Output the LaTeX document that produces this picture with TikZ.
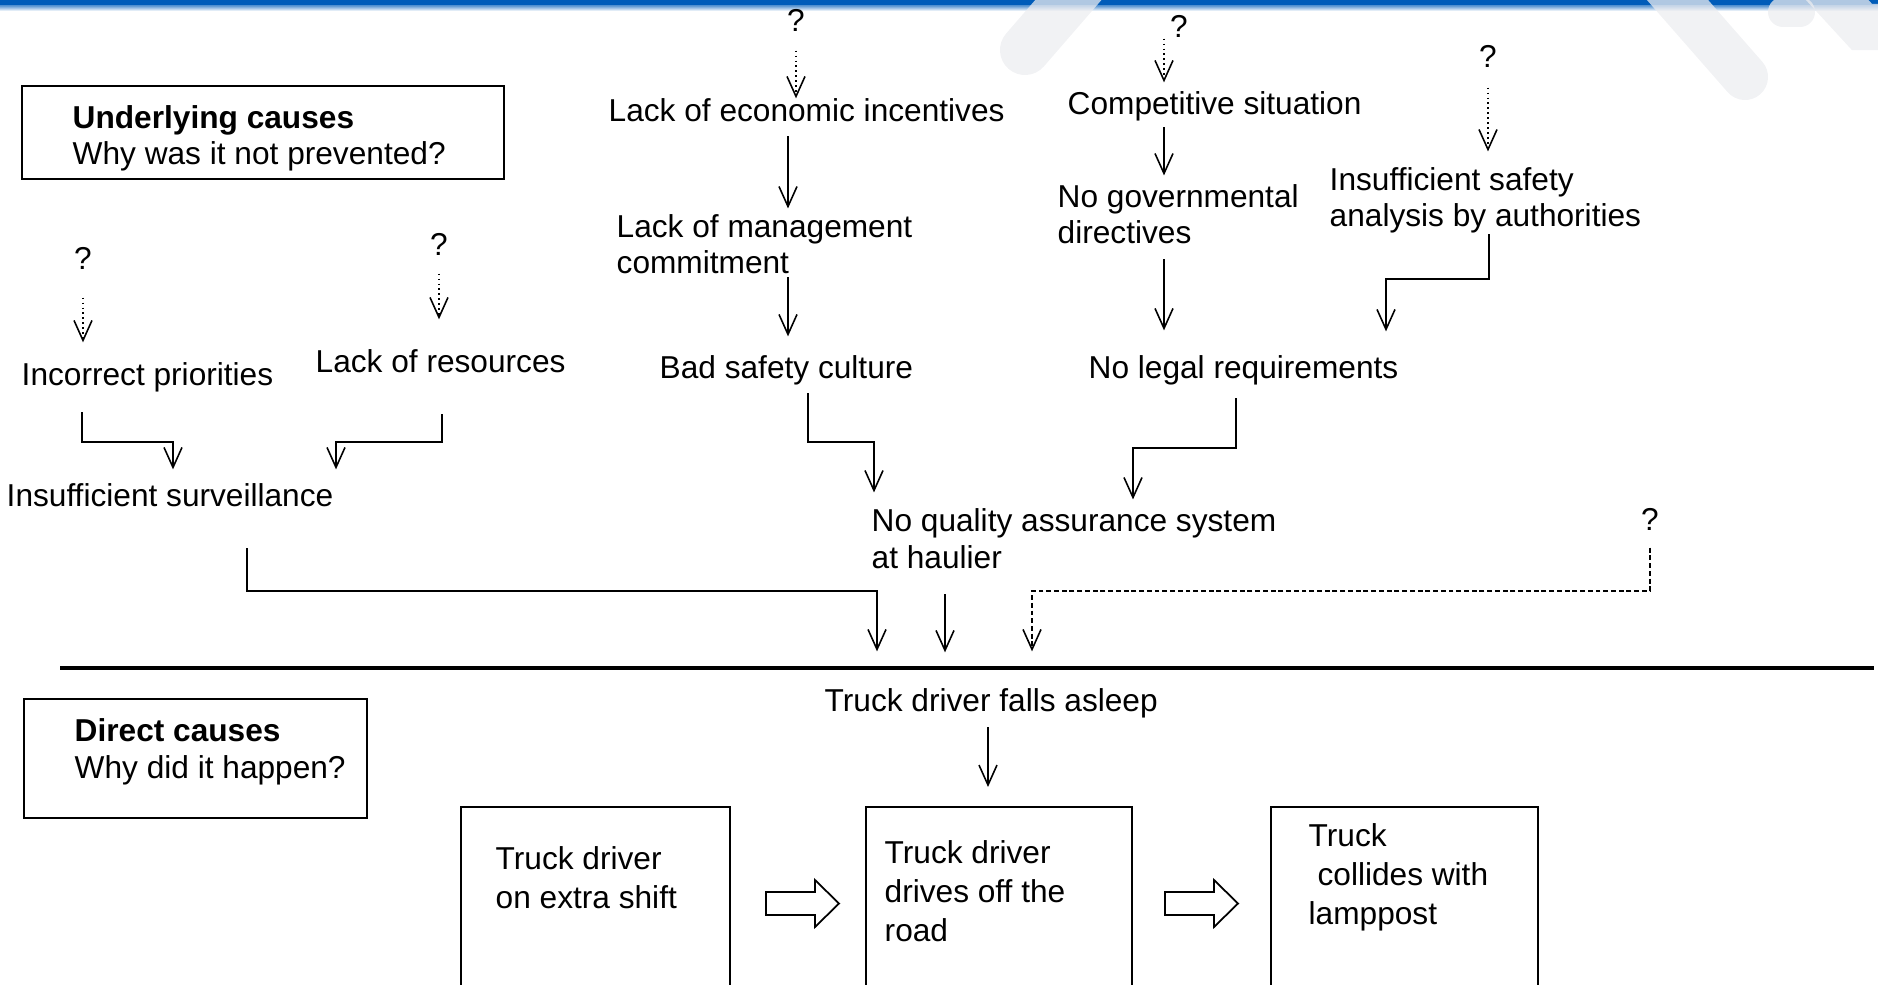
\documentclass[tikz,border=0pt]{standalone}
\usepackage{fontspec}
\setmainfont{Liberation Sans}
\usepackage{xcolor}
\usepackage{tikz}
\usetikzlibrary{arrows.meta}
\definecolor{barblue}{RGB}{0,92,185}
\definecolor{markgray}{RGB}{236,237,240}

\begin{document}
\begin{tikzpicture}[
  x=0.01cm, y=-0.01cm,
  lbl/.style={inner sep=0pt, anchor=base west, align=left, font=\fontsize{9}{10.5}\selectfont},
  intext/.style={lbl, font=\fontsize{9}{11}\selectfont},
  frame/.style={draw, line width=0.5pt, inner sep=0pt},
  card/.style={frame, anchor=north west, minimum height=2.6cm},
  arrow/.style={-{Straight Barb[length=0.2cm, width=0.18cm]}, line width=0.45pt},
  qarrow/.style={arrow, dash pattern=on 0.5pt off 0.9pt},
  darrow/.style={arrow, dash pattern=on 1.4pt off 0.8pt},
  hollow/.style={draw, line width=0.5pt, fill=white},
  rule/.style={line width=0.9pt},
  streak/.style={markgray, opacity=0.75, line cap=round}
]
\useasboundingbox (0,0) rectangle (1878,985);

% Header band
\fill[barblue] (0,0) rectangle (1878,6);
\shade[top color=barblue!60, bottom color=white] (0,6) rectangle (1878,11);
\draw[streak, line width=0.5cm] (1025,50) -- (1090,-25);
\draw[streak, line width=0.46cm] (1660,-20) -- (1745,77);
\draw[streak, line width=0.3cm] (1783,12) -- (1800,12);
\draw[streak, line width=0.46cm] (1805,-35) -- (1862,27) -- (1900,27);

% Nodes (multi-line labels sit on the baseline of their last line)
\node[frame, minimum width=4.81cm, minimum height=0.93cm] (ubox) at (263,132.5) {};
\node[lbl] (utxt) at (72,165) {\textbf{Underlying causes}\\Why was it not prevented?};
\node[frame, minimum width=3.43cm, minimum height=1.19cm] (dbox) at (195.5,758.5) {};
\node[lbl] (dtxt) at (74,778) {\textbf{Direct causes}\\Why did it happen?};

\node[lbl, anchor=base] (qecon) at (796,32) {?};
\node[lbl] (econ) at (608,122) {Lack of economic incentives};
\node[lbl] (mgmt) at (616,274) {Lack of management\\commitment};
\node[lbl] (culture) at (659,379) {Bad safety culture};

\node[lbl, anchor=base] (qcomp) at (1179,38) {?};
\node[lbl] (comp) at (1067,115) {Competitive situation};
\node[lbl] (gov) at (1057,244) {No governmental\\directives};
\node[lbl, anchor=base] (qauth) at (1488,68) {?};
\node[lbl] (auth) at (1329,227) {Insufficient safety\\analysis by authorities};
\node[lbl] (legal) at (1088,379) {No legal requirements};

\node[lbl, anchor=base] (qprio) at (83,270) {?};
\node[lbl] (prio) at (21,386) {Incorrect priorities};
\node[lbl, anchor=base] (qres) at (439,255) {?};
\node[lbl] (res) at (315,373) {Lack of resources};
\node[lbl] (surv) at (6,506) {Insufficient surveillance};

\node[lbl] (qas) at (871,568) {No quality assurance system\\at haulier};
\node[lbl, anchor=base] (qhaul) at (1650,530) {?};
\node[lbl] (asleep) at (824,711) {Truck driver falls asleep};

\node[card, minimum width=2.69cm] (shift) at (460,806) {};
\node[card, minimum width=2.66cm] (road) at (865,806) {};
\node[card, minimum width=2.67cm] (post) at (1270,806) {};
\node[intext] (tshift) at (495,908) {Truck driver\\on extra shift};
\node[intext] (troad) at (884,941) {Truck driver\\drives off the\\road};
\node[intext] (tpost) at (1308,924) {Truck\\\hspace{0.28em}collides with\\lamppost};

% Arrows
\draw[qarrow, shorten <=0.18cm] (qecon.south) -- (qecon.south |- econ.north);
\draw[qarrow, shorten >=0.09cm] (qcomp.south -| 1164,0) -- (comp.north -| 1164,0);
\draw[qarrow, shorten <=0.19cm, shorten >=0.15cm] (qauth.south) -- (qauth.south |- auth.north);
\draw[qarrow, shorten <=0.27cm, shorten >=0.2cm] (qprio.south) -- (qprio.south |- prio.north);
\draw[qarrow, shorten <=0.18cm, shorten >=0.3cm] (qres.south) -- (qres.south |- res.north);

\draw[arrow, shorten <=0.13cm, shorten >=0.05cm] (econ.south -| 788,0) -- (mgmt.north -| 788,0);
\draw[arrow, shorten <=0.02cm, shorten >=0.19cm] (mgmt.south -| 788,0) -- (culture.north -| 788,0);
\draw[arrow, shorten <=0.07cm, shorten >=0.15cm] (culture.south -| 808,0) |- (874,442) -- (qas.north -| 874,0);
\draw[arrow, shorten <=0.05cm, shorten >=0.08cm] (comp.south -| 1164,0) -- (gov.north -| 1164,0);
\draw[arrow, shorten <=0.14cm, shorten >=0.25cm] (gov.south -| 1164,0) -- (legal.north -| 1164,0);
\draw[arrow, shorten >=0.24cm] (auth.south -| 1489,0) |- (1386,279) -- (legal.north -| 1386,0);
\draw[arrow, shorten <=0.12cm, shorten >=0.08cm] (legal.south -| 1236,0) |- (1133,448) -- (qas.north -| 1133,0);

\draw[arrow, shorten <=0.19cm, shorten >=0.13cm] (prio.south -| 82,0) |- (173,442) -- (surv.north -| 173,0);
\draw[arrow, shorten <=0.4cm, shorten >=0.13cm] (res.south -| 442,0) |- (336,442) -- (surv.north -| 336,0);

\draw[arrow, shorten <=0.41cm, shorten >=0.36cm] (surv.south -| 247,0) |- (877,591) -- (asleep.north -| 877,0);
\draw[arrow, shorten <=0.25cm, shorten >=0.35cm] (qas.south -| 945,0) -- (asleep.north -| 945,0);
\draw[darrow, shorten <=0.17cm, shorten >=0.36cm] (qhaul.south) |- (1032,591) -- (asleep.north -| 1032,0);
\draw[arrow, shorten <=0.09cm, shorten >=0.19cm] (asleep.south -| 988,0) -- (road.north -| 988,0);

% Divider
\draw[rule] (60,668) -- (1874,668);

% Block arrows between the boxes
\foreach \x in {766,1165}
  \draw[hollow] (\x,892) -- ++(49,0) -- ++(0,-12) -- ++(24,23.5) -- ++(-24,23.5) -- ++(0,-12) -- ++(-49,0) -- cycle;

\end{tikzpicture}
\end{document}
